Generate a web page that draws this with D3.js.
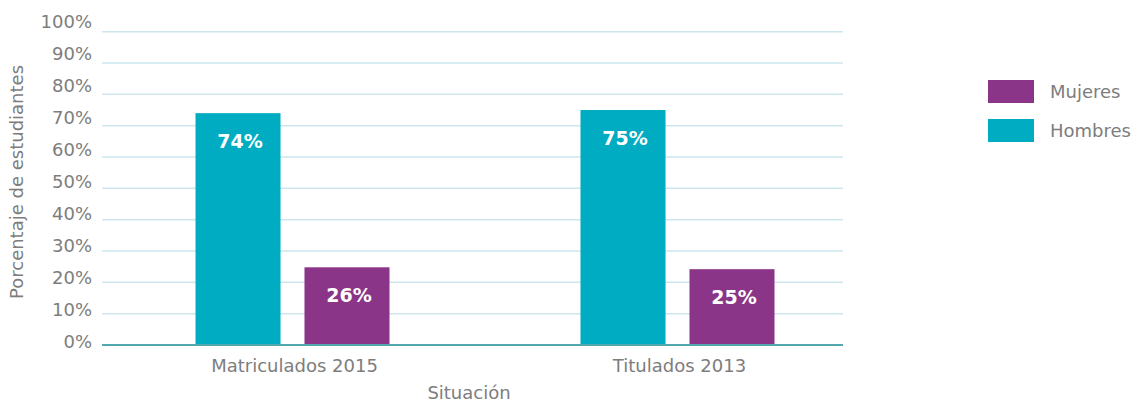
<!DOCTYPE html>
<html>
<head>
<meta charset="utf-8">
<script src="https://cdn.jsdelivr.net/npm/d3@7"></script>
<style>
  body { margin: 0; background: #fff; }
  text { font-family: "DejaVu Sans", sans-serif; }
</style>
</head>
<body>
<div id="chart"></div>
<script>
// data
var categories = ["Matriculados 2015", "Titulados 2013"];
var seriesNames = ["Hombres", "Mujeres"];
var hombres = [74, 75];
var mujeres = [24.8, 24.2];
var hombresLabels = ["74%", "75%"];
var mujeresLabels = ["26%", "25%"];
var yTicks = [0, 10, 20, 30, 40, 50, 60, 70, 80, 90, 100];
var legendOrder = ["Mujeres", "Hombres"];

var width = 1145, height = 403;
var color = d3.scaleOrdinal()
    .domain(seriesNames)
    .range(["#00acc2", "#8b3588"]);

var svg = d3.select("#chart")
    .append("svg")
    .attr("width", width)
    .attr("height", height);

var y = d3.scaleLinear().domain([0, 100]).range([345, 31.7]);
// tick labels sit a little off the grid in the original
var yLab = d3.scaleLinear().domain([0, 100]).range([348, 27.5]);

var x0 = d3.scaleBand().domain(categories).range([100, 870]).padding(0);
var x1 = d3.scaleBand().domain(seriesNames)
    .range([95.5, 289.5])
    .paddingInner(0.22);

var gridLeft = 102, gridRight = 843;

// gridlines
svg.append("g")
    .selectAll("line")
    .data(yTicks.filter(function (d) { return d > 0; }))
    .enter()
    .append("line")
    .attr("x1", gridLeft)
    .attr("x2", gridRight)
    .attr("y1", function (d) { return y(d); })
    .attr("y2", function (d) { return y(d); })
    .attr("stroke", "#cde6ee")
    .attr("stroke-width", 1.5);

// y tick labels
svg.append("g")
    .selectAll("text")
    .data(yTicks)
    .enter()
    .append("text")
    .attr("x", 92)
    .attr("y", function (d) { return yLab(d); })
    .attr("text-anchor", "end")
    .attr("fill", "#7d7d7d")
    .style("font-size", "18px")
    .text(function (d) { return d + "%"; });

// bars
var rows = categories.map(function (c, i) {
    return [
        { cat: c, key: "Hombres", value: hombres[i], label: hombresLabels[i] },
        { cat: c, key: "Mujeres", value: mujeres[i], label: mujeresLabels[i] }
    ];
});

var groups = svg.append("g")
    .selectAll("g")
    .data(rows)
    .enter()
    .append("g")
    .attr("transform", function (d) { return "translate(" + x0(d[0].cat) + ",0)"; });

groups.selectAll("rect")
    .data(function (d) { return d; })
    .enter()
    .append("rect")
    .attr("x", function (d) { return x1(d.key); })
    .attr("width", x1.bandwidth())
    .attr("y", function (d) { return y(d.value); })
    .attr("height", function (d) { return y(0) - y(d.value); })
    .attr("fill", function (d) { return color(d.key); });

groups.selectAll("text")
    .data(function (d) { return d; })
    .enter()
    .append("text")
    .attr("x", function (d) { return x1(d.key) + x1.bandwidth() / 2 + 2; })
    .attr("y", function (d) { return y(d.value) + 35; })
    .attr("text-anchor", "middle")
    .attr("fill", "#ffffff")
    .style("font-size", "19px")
    .style("font-weight", "bold")
    .text(function (d) { return d.label; });

// baseline
svg.append("line")
    .attr("x1", gridLeft)
    .attr("x2", gridRight)
    .attr("y1", y(0))
    .attr("y2", y(0))
    .attr("stroke", "#52a8ad")
    .attr("stroke-width", 2);

// x tick labels
svg.append("g")
    .selectAll("text")
    .data(categories)
    .enter()
    .append("text")
    .attr("x", function (d) { return x0(d) + x0.bandwidth() / 2 + 2; })
    .attr("y", 372)
    .attr("text-anchor", "middle")
    .attr("fill", "#7d7d7d")
    .style("font-size", "18px")
    .text(function (d) { return d; });

// axis titles
svg.append("text")
    .attr("x", 469)
    .attr("y", 399)
    .attr("text-anchor", "middle")
    .attr("fill", "#7d7d7d")
    .style("font-size", "18px")
    .text("Situación");

svg.append("text")
    .attr("transform", "translate(23,182) rotate(-90)")
    .attr("text-anchor", "middle")
    .attr("fill", "#7d7d7d")
    .style("font-size", "18px")
    .text("Porcentaje de estudiantes");

// legend
var legend = svg.append("g")
    .selectAll("g")
    .data(legendOrder)
    .enter()
    .append("g")
    .attr("transform", function (d, i) { return "translate(988," + (80 + i * 39) + ")"; });

legend.append("rect")
    .attr("width", 46)
    .attr("height", 23)
    .attr("fill", function (d) { return color(d); });

legend.append("text")
    .attr("x", 62)
    .attr("y", 17.5)
    .attr("fill", "#7d7d7d")
    .style("font-size", "18px")
    .text(function (d) { return d; });
</script>
</body>
</html>
